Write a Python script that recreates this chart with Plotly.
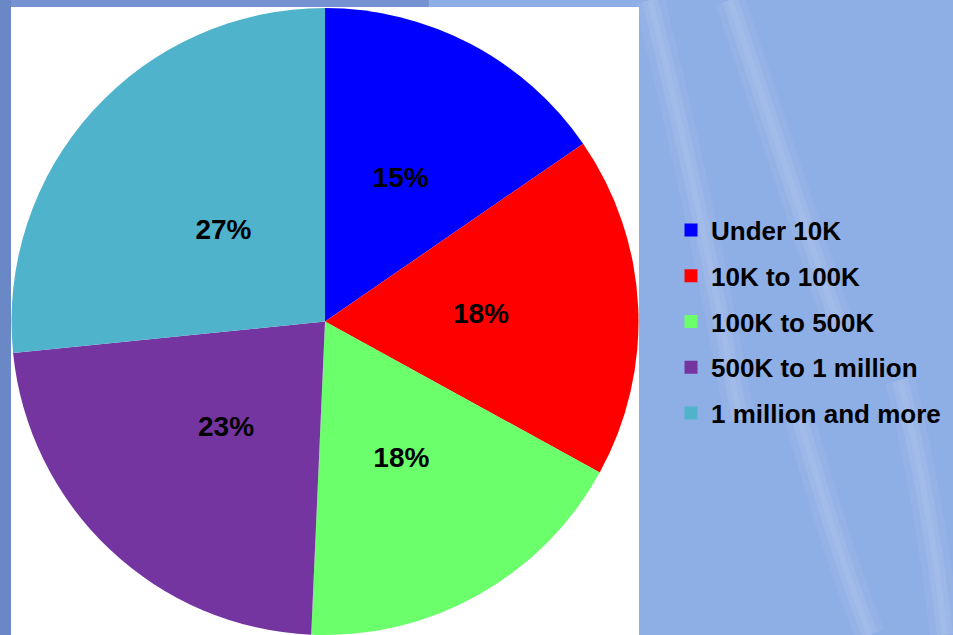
import plotly.graph_objects as go

categories = ["Under 10K", "10K to 100K", "100K to 500K", "500K to 1 million", "1 million and more"]
shares = [15.4, 17.6, 17.7, 22.7, 26.6]
colors = ["#0000FF", "#FF0000", "#6BFF6B", "#7535A0", "#4FB3CC"]

W, H = 953, 635
CX, CY, R = 325, 321.5, 313.5          # pie centre / radius in pixels
RL = 0.76 * R                            # radius of the label-carrying overlay pie

label_font = dict(family="Liberation Sans, Arial, sans-serif", size=28, color="black", weight="bold")

fig = go.Figure()
# main coloured pie
fig.add_trace(go.Pie(
    labels=categories,
    values=shares,
    marker=dict(colors=colors, line=dict(width=0)),
    sort=False,
    direction="clockwise",
    rotation=0,
    textinfo="none",
    domain=dict(x=[(CX - R) / W, (CX + R) / W], y=[1 - (CY + R) / H, 1 - (CY - R) / H]),
    showlegend=False,
    hoverinfo="label+percent",
))
# transparent overlay pie carrying the percentage labels closer to the centre
fig.add_trace(go.Pie(
    labels=categories,
    values=shares,
    marker=dict(colors=["rgba(0,0,0,0)"] * len(categories), line=dict(width=0)),
    sort=False,
    direction="clockwise",
    rotation=0,
    texttemplate="%{percent:.0%}",
    textposition="inside",
    insidetextorientation="horizontal",
    textfont=label_font,
    domain=dict(x=[(CX - RL) / W, (CX + RL) / W], y=[1 - (CY + RL) / H, 1 - (CY - RL) / H]),
    showlegend=False,
    hoverinfo="skip",
))

# legend entries (one group per category so spacing matches)
for name, col in zip(categories, colors):
    fig.add_trace(go.Scatter(
        x=[None], y=[None], mode="markers", name=name,
        marker=dict(symbol="square", size=13, color=col),
        legendgroup=name, showlegend=True,
    ))

shapes = [
    dict(type="rect", xref="paper", yref="paper", x0=0, x1=1, y0=0, y1=1,
         fillcolor="#8EAEE6", line=dict(width=0), layer="below"),
    dict(type="rect", xref="paper", yref="paper", x0=0, x1=0.45, y0=0, y1=1,
         fillcolor="#7592D2", line=dict(width=0), layer="below"),
    dict(type="rect", xref="paper", yref="paper", x0=0, x1=11 / W, y0=0, y1=1,
         fillcolor="#6A87C6", line=dict(width=0), layer="below"),
]
# faint, soft contrail streaks in the sky background
streaks = [((650, 0), (700, 200), (740, 420)), ((730, 0), (790, 180), (840, 330)),
           ((800, 420), (840, 560), (870, 635)), ((900, 380), (930, 500), (945, 635))]
for p0, p1, p2 in streaks:
    for width, alpha in ((30, 0.07), (16, 0.08), (6, 0.08)):
        shapes.append(dict(type="path", xref="paper", yref="paper",
                           path=f"M {p0[0]/W},{1-p0[1]/H} Q {p1[0]/W},{1-p1[1]/H} {p2[0]/W},{1-p2[1]/H}",
                           line=dict(color=f"rgba(240,244,255,{alpha})", width=width), layer="below"))
shapes.append(dict(type="rect", xref="paper", yref="paper", x0=11 / W, x1=639 / W, y0=0, y1=1 - 7 / H,
                   fillcolor="white", line=dict(width=0), layer="below"))

fig.update_layout(
    width=W, height=H,
    margin=dict(l=0, r=0, t=0, b=0),
    paper_bgcolor="#8EAEE6",
    plot_bgcolor="rgba(0,0,0,0)",
    shapes=shapes,
    xaxis=dict(visible=False, domain=[0.999, 1]),
    yaxis=dict(visible=False, domain=[0.999, 1]),
    legend=dict(
        x=671 / W, xanchor="left", y=1 - 322 / H, yanchor="middle",
        bgcolor="rgba(0,0,0,0)", borderwidth=0,
        font=dict(family="Liberation Sans, Arial, sans-serif", size=26, color="black", weight="bold"),
        traceorder="grouped", tracegroupgap=9, itemsizing="trace",
    ),
)

fig.write_html("out.html")
